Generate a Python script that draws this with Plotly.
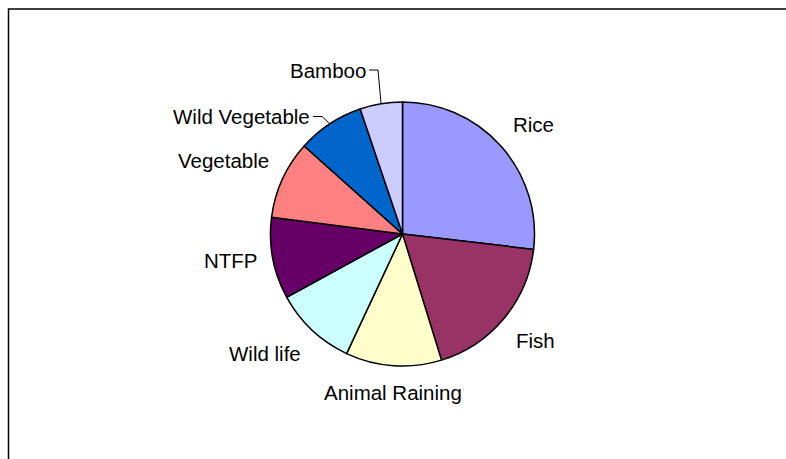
import math
import plotly.graph_objects as go

categories = ["Rice", "Fish", "Animal Raining", "Wild life", "NTFP",
              "Vegetable", "Wild Vegetable", "Bamboo"]
values = [26.9, 18.4, 11.75, 10.1, 10.0, 9.6, 8.2, 5.2]
colors = ["#9999FF", "#993366", "#FFFFCC", "#CCFFFF", "#660066",
          "#FF8080", "#0066CC", "#CCCCFF"]

W, H = 786, 459
CX, CY, R = 402.5, 234.0, 132.0
LABEL_R = 145.0
FONT = dict(family="Liberation Sans, Arial, sans-serif", size=20.5, color="#000000")
# labels that were moved away from the pie, with leader lines (pixel layout)
moved_labels = {"Wild Vegetable": (313.0, 116.5), "Bamboo": (369.0, 70.0)}
ELBOW = 9.0

def px2paper(x, y):
    return x / W, 1 - y / H

fig = go.Figure(go.Pie(
    labels=categories, values=values, sort=False, direction="clockwise",
    rotation=0, textinfo="none", hoverinfo="label+percent",
    marker=dict(colors=colors, line=dict(color="#000000", width=1.5)),
    domain=dict(x=[(CX - R) / W, (CX + R) / W],
                y=[(H - CY - R) / H, (H - CY + R) / H]),
    showlegend=False,
))

annotations = []
shapes = []
total = sum(values)
cum = 0.0
for name, v in zip(categories, values):
    mid = (cum + v / 2) / total * 2 * math.pi
    cum += v
    s, c = math.sin(mid), math.cos(mid)
    if name in moved_labels:
        lx, ly = moved_labels[name]
        ex, ey = CX + R * s, CY - R * c
        pts = [(ex, ey), (lx + ELBOW, ly), (lx, ly)]
        path = "M " + " L ".join(f"{x / W},{1 - y / H}" for x, y in pts)
        shapes.append(dict(type="path", xref="paper", yref="paper",
                           path=path, line=dict(color="#000000", width=1)))
        px, py = px2paper(lx - 1, ly)
        annotations.append(dict(x=px, y=py, xref="paper", yref="paper",
                                text=name, showarrow=False, xanchor="right",
                                yanchor="middle", font=FONT))
        continue
    lx, ly = CX + LABEL_R * s, CY - LABEL_R * c
    xa = "left" if s > 0.3 else ("right" if s < -0.3 else "center")
    ya = "bottom" if c > 0.3 else ("top" if c < -0.3 else "middle")
    px, py = px2paper(lx, ly)
    annotations.append(dict(x=px, y=py, xref="paper", yref="paper",
                            text=name, showarrow=False, xanchor=xa,
                            yanchor=ya, font=FONT))

# chart frame (extends past the right and bottom edges)
shapes.append(dict(type="rect", xref="paper", yref="paper",
                   x0=8.5 / W, x1=(W + 20) / W, y0=-20 / H, y1=1 - 9 / H,
                   line=dict(color="#000000", width=1.5)))

fig.update_layout(
    width=W, height=H, margin=dict(l=0, r=0, t=0, b=0),
    paper_bgcolor="#FFFFFF", plot_bgcolor="#FFFFFF",
    annotations=annotations, shapes=shapes, font=FONT,
)
html = fig.to_html(include_plotlyjs=True, full_html=True,
                   config={"displayModeBar": False})
html = html.replace("<head>", "<head><style>html,body{margin:0;padding:0;overflow:hidden;}</style>", 1)
with open("out.html", "w", encoding="utf-8") as f:
    f.write(html)
